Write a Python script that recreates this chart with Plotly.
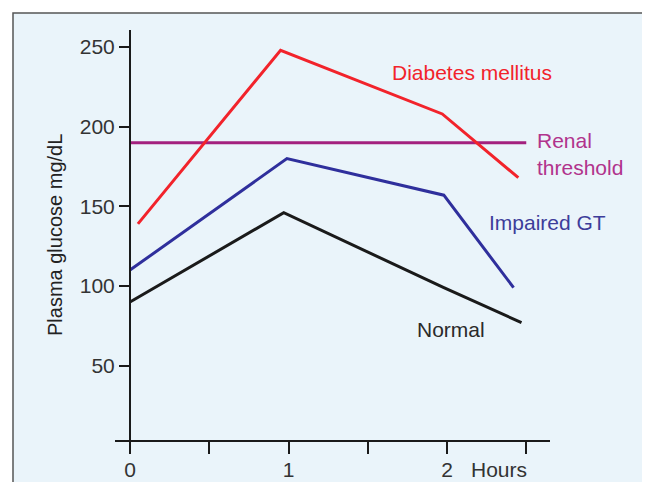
import plotly.graph_objects as go

# Data
hours_diabetes = [0.05, 0.95, 1.97, 2.45]
glucose_diabetes = [139, 248, 208, 168]

hours_impaired = [0.0, 0.99, 1.98, 2.42]
glucose_impaired = [110, 180, 157, 99]

hours_normal = [0.0, 0.97, 1.98, 2.47]
glucose_normal = [90, 146, 99, 77]

hours_renal = [0.0, 2.5]
glucose_renal = [190, 190]

x_tickvals = [0, 0.5, 1, 1.5, 2, 2.5]
x_ticktext = ["0", "", "1", "", "2", ""]
y_tickvals = [50, 100, 150, 200, 250]

FONT = "Liberation Sans, Arial, sans-serif"
FS = 21
RED = "#F2232B"
PURPLE = "#A3207E"
BLUE = "#2F2F9C"
BLACK = "#1A1A1A"

fig = go.Figure()
fig.add_trace(go.Scatter(x=hours_renal, y=glucose_renal, mode="lines",
                         line=dict(color=PURPLE, width=3), showlegend=False))
fig.add_trace(go.Scatter(x=hours_normal, y=glucose_normal, mode="lines",
                         line=dict(color=BLACK, width=3), showlegend=False))
fig.add_trace(go.Scatter(x=hours_impaired, y=glucose_impaired, mode="lines",
                         line=dict(color=BLUE, width=3), showlegend=False))
fig.add_trace(go.Scatter(x=hours_diabetes, y=glucose_diabetes, mode="lines",
                         line=dict(color=RED, width=3), showlegend=False))

# page has an 8px body margin, so figure coordinates are offset by 8px
OFF = 8
W, H = 650 - OFF, 482 - OFF
L, T = 115 - OFF, 30 - OFF
pw, ph = 435, 410
R = W - L - pw
B = H - T - ph


def px_x(x):  # screen px -> paper x
    return (x - OFF - L) / pw


def px_y(y):  # screen px -> paper y
    return (T + ph - (y - OFF)) / ph


# background panel
fig.add_shape(type="rect", xref="paper", yref="paper",
              x0=px_x(13), x1=px_x(645), y0=px_y(500), y1=px_y(13),
              fillcolor="#EAF4FA", line=dict(color="#555555", width=1.5),
              layer="below")

ann_font = dict(family=FONT, size=FS)
fig.add_annotation(x=2.16, y=234, text="Diabetes mellitus", showarrow=False,
                   xanchor="center", yanchor="middle", font=dict(**ann_font, color=RED))
fig.add_annotation(x=2.555, y=183, text="Renal<br>threshold", showarrow=False,
                   xanchor="left", yanchor="middle", align="left",
                   font=dict(**ann_font, color="#B1338C"))
fig.add_annotation(x=2.25, y=140, text="Impaired GT", showarrow=False,
                   xanchor="left", yanchor="middle", font=dict(**ann_font, color="#3D3D9A"))
fig.add_annotation(x=2.25, y=73, text="Normal", showarrow=False,
                   xanchor="right", yanchor="middle", font=dict(**ann_font, color="#2A2A2A"))
fig.add_annotation(x=2.33, y=px_y(469), yref="paper", text="Hours", showarrow=False,
                   xanchor="center", yanchor="middle", font=dict(**ann_font, color="#333333"))
fig.add_annotation(x=px_x(55), xref="paper", y=px_y(235), yref="paper",
                   text="Plasma glucose mg/dL", textangle=-90, showarrow=False,
                   xanchor="center", yanchor="middle",
                   font=dict(family=FONT, size=FS - 1, color="#222222"))

fig.update_layout(
    width=W, height=H,
    margin=dict(l=L, r=R, t=T, b=B, autoexpand=False),
    paper_bgcolor="white",
    plot_bgcolor="rgba(0,0,0,0)",
    font=dict(family=FONT, size=FS, color="#333333"),
    xaxis=dict(range=[-15 / 158.5, 420 / 158.5], tickvals=x_tickvals, ticktext=x_ticktext,
               showgrid=False, zeroline=False, showline=True, linecolor="#1A1A1A", linewidth=2,
               ticks="outside", ticklen=12, tickwidth=2, tickcolor="#1A1A1A", automargin=False,
               ticklabelstandoff=-2,
               tickfont=dict(family=FONT, size=FS, color="#333333")),
    yaxis=dict(range=[3.35, 260.7], tickvals=y_tickvals,
               showgrid=False, zeroline=False, showline=True, linecolor="#1A1A1A", linewidth=2,
               ticks="outside", ticklen=10, tickwidth=2, tickcolor="#1A1A1A",
               anchor="free", position=15 / pw, automargin=False,
               tickfont=dict(family=FONT, size=FS, color="#333333")),
)

fig.write_html("out.html")
